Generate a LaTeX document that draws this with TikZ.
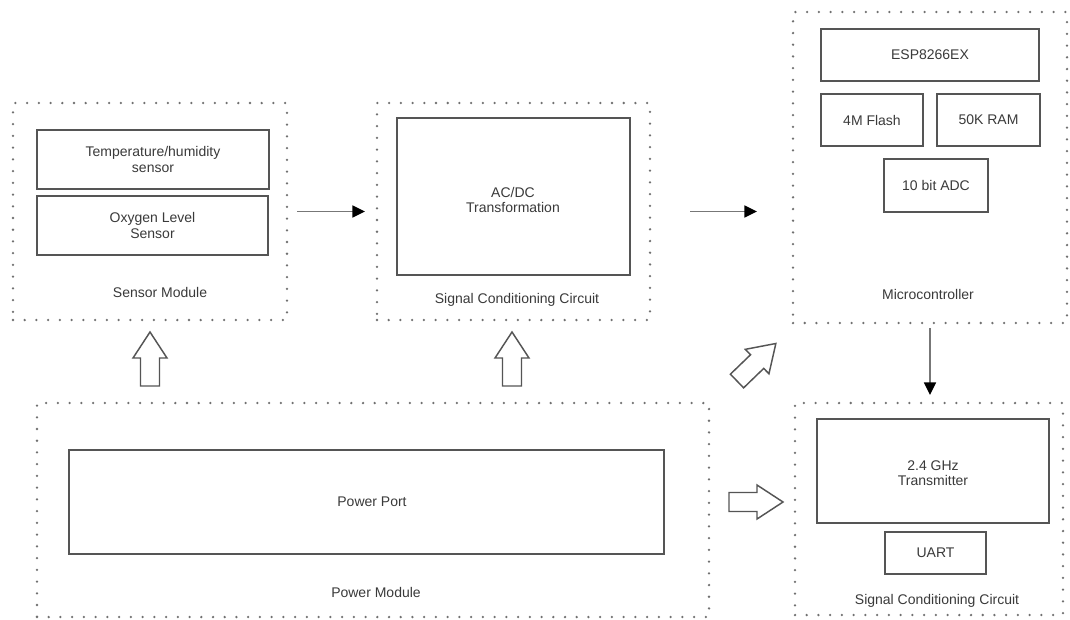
\documentclass[tikz,border=0pt]{standalone}
\usepackage{fontspec}
\setmainfont{Liberation Sans}
\usetikzlibrary{arrows.meta,fit}
\definecolor{boxline}{HTML}{555555}
\definecolor{dotcol}{HTML}{707070}
\definecolor{txt}{HTML}{3a3a3a}
\definecolor{shaft}{HTML}{777777}
\begin{document}
\begin{tikzpicture}[x=0.75pt,y=-0.75pt,
  font=\fontsize{10.5}{11.5}\selectfont,
  group/.style={draw=dotcol,line width=1.9pt,line cap=round,dash pattern=on 0pt off 8.8pt,inner sep=0pt},
  part/.style={draw=boxline,line width=1.1pt,inner sep=0pt},
  lbl/.style={text=txt,inner sep=0pt,align=center},
  conn/.style={draw=shaft,line width=1.2pt,-{Triangle[length=9.5pt,width=9pt,color=black]}},
  barrow/.style={draw=boxline,line width=1.1pt,line join=miter},
  blockarrow/.pic={\draw[barrow] (0,-9.5) -- (28,-9.5) -- (28,-17) -- (54,0) -- (28,17) -- (28,9.5) -- (0,9.5) -- cycle;}
]
\useasboundingbox (0,0) rectangle (1070,619);
\fill[white] (0,0) rectangle (1070,619);

% Sensor module
\node[group,fit={(13,103) (287,320)}] (sensor) {};
\node[part,fit={(37,130) (269,189)}] (temp) {};
\node[lbl] (templ) at (temp.center) {Temperature/humidity\\sensor};
\node[part,fit={(37,196) (268,255)}] (oxy) {};
\node[lbl] (oxyl) at (oxy.center) {Oxygen Level\\Sensor};
\node[lbl] (sensorl) at (160,292) {Sensor Module};

% Signal conditioning (top)
\node[group,fit={(377,103) (650,320)}] (scc) {};
\node[part,fit={(397,118) (630,275)}] (acdc) {};
\node[lbl] (acdcl) at (513,200) {AC/DC\\Transformation};
\node[lbl] (sccl) at (517,300) {Signal Conditioning Circuit};

% Microcontroller
\node[group,fit={(793,12) (1067,323)}] (mcu) {};
\node[part,fit={(821,29) (1039,81)}] (esp) {};
\node[lbl] (espl) at (esp.center) {ESP8266EX};
\node[part,fit={(821,94) (923,146)}] (flash) {};
\node[lbl] (flashl) at (flash.center) {4M Flash};
\node[part,fit={(937,94) (1040,146)}] (ram) {};
\node[lbl] (raml) at (ram.center) {50K RAM};
\node[part,fit={(884,159) (988,212)}] (adc) {};
\node[lbl] (adcl) at (adc.center) {10 bit ADC};
\node[lbl] (mcul) at (928,294) {Microcontroller};

% Power module
\node[group,fit={(37,403) (709,617)}] (power) {};
\node[part,fit={(69,450) (664,554)}] (port) {};
\node[lbl] (portl) at (372,502) {Power Port};
\node[lbl] (powerl) at (376,592) {Power Module};

% Signal conditioning (bottom)
\node[group,fit={(795,403) (1063,615)}] (sccb) {};
\node[part,fit={(817,419) (1049,523)}] (tx) {};
\node[lbl] (txl) at (933,473) {2.4 GHz\\Transmitter};
\node[part,fit={(885,532) (986,574)}] (uart) {};
\node[lbl] (uartl) at (uart.center) {UART};
\node[lbl] (sccbl) at (937,601) {Signal Conditioning Circuit};

% Connectors
\coordinate (a1s) at (297,211.5);
\coordinate (a1e) at (365,211.5);
\coordinate (a2s) at (690,211.5);
\coordinate (a2e) at (757,211.5);
\coordinate (a3s) at (930,328);
\coordinate (a3e) at (930,395);
\draw[conn] (a1s) -- (a1e);
\draw[conn] (a2s) -- (a2e);
\draw[conn] (a3s) -- (a3e);

% Block arrows
\pic[rotate=90] (up1) at (150,386) {blockarrow};
\pic[rotate=90] (up2) at (512,386) {blockarrow};
\pic[rotate=44] (diag) at (737,381) {blockarrow};
\pic (right) at (729,502) {blockarrow};
\end{tikzpicture}
\end{document}
